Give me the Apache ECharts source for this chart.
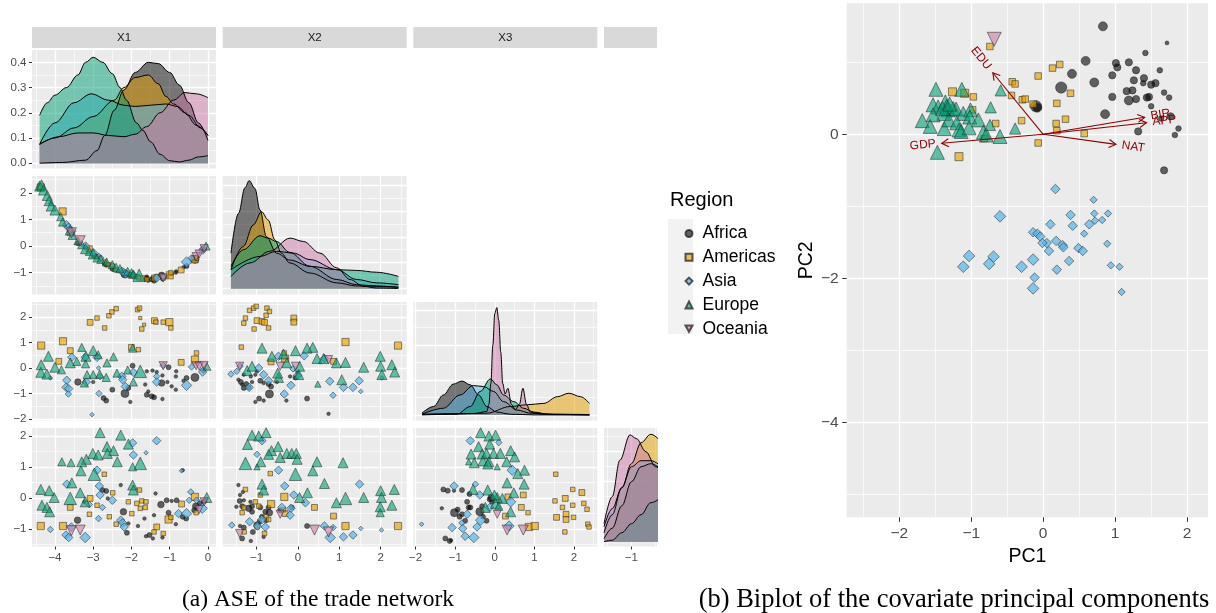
<!DOCTYPE html>
<html>
<head>
<meta charset="utf-8">
<script src="https://cdn.jsdelivr.net/npm/echarts@6.0.0/dist/echarts.min.js"></script>
<style>
  html, body { margin: 0; padding: 0; background: #ffffff; }
  #chart { width: 1216px; height: 613px; }
</style>
</head>
<body>
<div id="chart"></div>
<script>
// ---------------------------------------------------------------------------
// Categories, variables and tick labels
// ---------------------------------------------------------------------------
const regions = ['Africa', 'Americas', 'Asia', 'Europe', 'Oceania'];
const vars = ['X1', 'X2', 'X3', 'X4'];
const varRange = { X1: [-4.6, 0.21], X2: [-1.82, 2.63], X3: [-2.06, 2.59], X4: [-1.57, 2.25] };
const varTicks = { X1: [-4, -3, -2, -1, 0], X2: [-1, 0, 1, 2], X3: [-2, -1, 0, 1, 2], X4: [-1, 0, 1, 2] };
const densRange = { X1: [-0.021, 0.449], X2: [-0.23, 4.35], X3: [-0.16, 3.23], X4: [-0.16, 3.79] };
const densTicks = { X1: [0, 0.1, 0.2, 0.3, 0.4], X2: [0, 1, 2, 3, 4], X3: [0, 1, 2, 3], X4: [0, 1, 2, 3] };
const densStep = { X1: 0.1, X2: 1, X3: 1, X4: 1 };

const pcRangeX = [-2.73, 2.29];
const pcRangeY = [-5.32, 1.82];
const pcTicksX = [-2, -1, 0, 1, 2];
const pcTicksY = [-4, -2, 0];

// ---------------------------------------------------------------------------
// Kernel density estimates per region: [value, density]
// ---------------------------------------------------------------------------
const dens_X1 = {
  Africa:   [[-4.4,0],[-3.8,0.003],[-3.2,0.012],[-2.9,0.05],[-2.7,0.11],[-2.45,0.21],[-2.2,0.29],[-1.9,0.36],[-1.56,0.40],[-1.3,0.395],[-1.0,0.36],[-0.75,0.31],[-0.5,0.24],[-0.25,0.16],[0,0.09]],
  Americas: [[-4.4,0.075],[-4.0,0.10],[-3.5,0.14],[-3.0,0.185],[-2.45,0.25],[-2.2,0.30],[-1.9,0.34],[-1.56,0.35],[-1.3,0.315],[-1.1,0.265],[-0.9,0.235],[-0.6,0.2],[-0.3,0.15],[0,0.11]],
  Asia:     [[-4.4,0.075],[-4.0,0.16],[-3.5,0.24],[-3.05,0.275],[-2.6,0.25],[-2.2,0.23],[-1.9,0.225],[-1.5,0.23],[-1.1,0.235],[-0.8,0.225],[-0.5,0.19],[-0.2,0.14],[0,0.11]],
  Europe:   [[-4.4,0.19],[-4.2,0.24],[-4.0,0.27],[-3.7,0.30],[-3.4,0.35],[-3.2,0.40],[-3.0,0.42],[-2.75,0.40],[-2.5,0.355],[-2.3,0.30],[-2.13,0.25],[-1.87,0.16],[-1.7,0.13],[-1.5,0.085],[-1.25,0.035],[-1.0,0.01],[-0.75,0.005],[-0.5,0.012],[-0.25,0.025],[0,0.03]],
  Oceania:  [[-4.4,0.075],[-3.9,0.105],[-3.4,0.12],[-3.0,0.12],[-2.6,0.11],[-2.2,0.105],[-1.9,0.115],[-1.6,0.145],[-1.25,0.2],[-0.9,0.25],[-0.6,0.28],[-0.3,0.275],[0,0.26]]
};
const dens_X2 = {
  Africa:   [[-1.62,1.37],[-1.44,2.9],[-1.28,3.9],[-1.18,4.17],[-1.04,3.87],[-0.92,3.04],[-0.76,2.0],[-0.52,1.37],[-0.19,1.1],[0.29,0.86],[0.94,0.35],[1.42,0.15],[1.9,0.1],[2.43,0.05]],
  Americas: [[-1.62,0.73],[-1.32,1.63],[-1.08,2.46],[-0.88,2.97],[-0.72,2.65],[-0.56,1.88],[-0.4,1.37],[-0.2,0.99],[0.29,0.6],[0.94,0.22],[1.42,0.1],[2.43,0.05]],
  Asia:     [[-1.62,0.73],[-0.92,1.24],[-0.52,1.44],[-0.11,1.37],[0.29,1.12],[0.94,0.73],[1.42,0.35],[1.9,0.22],[2.43,0.15]],
  Europe:   [[-1.62,0.86],[-1.32,1.5],[-0.92,2.04],[-0.72,1.95],[-0.52,1.82],[-0.2,1.4],[0.29,0.86],[0.94,0.73],[1.42,0.7],[1.9,0.63],[2.43,0.47]],
  Oceania:  [[-1.62,0.47],[-1.16,0.99],[-0.68,1.44],[-0.19,1.95],[0.13,1.82],[0.53,1.37],[0.94,0.8],[1.26,0.35],[1.58,0.09],[1.9,0.02],[2.43,0]]
};
const dens_X3 = {
  Africa:   [[-1.84,0.05],[-1.55,0.24],[-1.3,0.57],[-1.05,0.88],[-0.83,0.97],[-0.62,0.86],[-0.41,0.57],[-0.2,0.24],[0.05,0.08],[0.4,0.02],[1.0,0],[2.39,0]],
  Americas: [[-1.84,0.02],[-1.0,0.03],[-0.2,0.05],[0.39,0.24],[0.82,0.29],[1.24,0.33],[1.58,0.52],[1.87,0.62],[2.17,0.52],[2.39,0.33]],
  Asia:     [[-1.84,0.02],[-1.3,0.19],[-0.88,0.57],[-0.54,0.84],[-0.28,0.81],[-0.03,0.67],[0.22,0.38],[0.56,0.14],[0.9,0.05],[1.5,0.02],[2.39,0.01]],
  Europe:   [[-1.84,0],[-0.96,0.02],[-0.62,0.24],[-0.37,0.67],[-0.11,1.03],[0.05,0.86],[0.22,0.57],[0.48,0.38],[0.73,0.19],[0.99,0.08],[1.4,0.01],[2.39,0]],
  Oceania:  [[-1.84,0.01],[-0.5,0.04],[-0.2,0.1],[-0.15,0.3],[-0.1,0.9],[-0.05,2.0],[0.0,2.9],[0.05,3.07],[0.1,2.7],[0.15,1.8],[0.2,0.9],[0.26,0.6],[0.33,0.76],[0.42,0.3],[0.52,0.15],[0.62,0.3],[0.71,0.76],[0.8,0.3],[0.9,0.08],[1.2,0.02],[2.39,0]]
};
const dens_X4 = {
  Africa:   [[-1.57,0.1],[-1.4,0.45],[-1.2,1.2],[-1.0,2.0],[-0.8,2.5],[-0.6,2.6],[-0.3,2.4],[0.2,1.5],[1.0,0.5],[2.0,0.1]],
  Americas: [[-1.57,0.3],[-1.4,0.9],[-1.2,1.8],[-1.0,2.6],[-0.8,3.3],[-0.6,3.58],[-0.3,3.3],[0.2,2.0],[1.0,0.6],[2.0,0.1]],
  Asia:     [[-1.57,0.5],[-1.4,1.1],[-1.2,1.8],[-1.0,2.5],[-0.8,2.7],[-0.6,2.7],[-0.3,2.5],[0.2,1.6],[1.0,0.8],[2.0,0.2]],
  Europe:   [[-1.57,0],[-1.4,0.05],[-1.2,0.3],[-1.0,0.6],[-0.8,0.9],[-0.6,1.3],[-0.3,1.5],[0.2,1.4],[1.0,1.2],[2.0,0.8]],
  Oceania:  [[-1.57,0.6],[-1.4,1.5],[-1.24,2.72],[-1.03,3.56],[-0.9,3.44],[-0.7,3.0],[-0.5,2.5],[0,1.5],[1.0,0.3],[2.0,0]]
};

// ---------------------------------------------------------------------------
// Embedding coordinates per region: [x, y, weight]
// ---------------------------------------------------------------------------
const pts_X1_X2 = {
  Africa:   [[-3.4,0.1,2],[-3.0,-0.4,1],[-2.7,-0.65,2],[-2.66,-0.7,2],[-2.5,-0.85,2],[-2.17,-1.05,4],[-2.03,-1.1,1],[-1.64,-1.25,1],[-1.6,-1.2,2],[-1.56,-1.3,1],[-1.47,-1.25,2],[-1.41,-1.3,2],[-1.19,-1.25,1],[-1.34,-1.15,1],[-1.45,-1.2,1],[-1.21,-1.1,3],[-1.06,-1.15,1],[-0.84,-1.0,1],[-0.95,-1.05,1],[-0.64,-0.8,1],[-0.56,-0.75,2],[-0.34,-0.5,4],[-0.83,-0.95,1],[-1.6,-1.15,1],[-1.97,-1.1,2],[-1.19,-1.2,1]],
  Americas: [[-4.37,2.2,4],[-3.8,1.3,4],[-3.6,0.5,3],[-3.1,-0.1,3],[-2.9,-0.4,2],[-2.7,-0.6,2],[-2.6,-0.7,2],[-2.5,-0.75,2],[-2.4,-0.9,2],[-2.2,-1.0,2],[-2.0,-1.1,3],[-1.85,-1.15,2],[-1.8,-1.2,2],[-1.7,-1.2,2],[-1.6,-1.25,2],[-1.4,-1.2,3],[-1.35,-1.15,2],[-1.17,-1.2,2],[-1.0,-1.1,4],[-0.97,-1.0,2],[-0.7,-0.9,3],[-0.35,-0.5,4],[-0.3,-0.45,2]],
  Asia:     [[-4.12,1.6,1],[-3.7,0.8,3],[-3.65,0.7,3],[-3.56,0.55,3],[-3.2,0.0,3],[-3.0,-0.25,3],[-2.86,-0.35,1],[-2.8,-0.45,2],[-2.25,-0.95,3],[-2.2,-1.0,3],[-2.15,-1.05,3],[-1.95,-1.1,3],[-1.34,-1.2,3],[-1.17,-1.15,2],[-0.56,-0.6,4],[-0.43,-0.45,2],[-0.14,-0.15,3],[-0.12,-0.1,2]],
  Europe:   [[-4.4,2.25,4],[-4.35,2.3,4],[-4.3,2.1,4],[-4.2,1.9,4],[-4.15,1.7,4],[-4.1,1.5,4],[-4.0,1.35,4],[-3.85,1.1,3],[-3.8,0.9,3],[-3.6,0.6,4],[-3.55,0.4,3],[-3.4,0.2,3],[-3.3,0.05,3],[-3.2,-0.1,4],[-3.1,-0.2,3],[-3.0,-0.3,4],[-2.9,-0.45,3],[-2.8,-0.5,3],[-2.65,-0.6,3],[-2.5,-0.7,3],[-2.4,-0.8,3],[-2.3,-0.85,3],[-2.1,-0.95,3],[-2.0,-1.0,3],[-1.95,-1.05,3],[-1.8,-1.1,5],[-0.05,0.0,3]],
  Oceania:  [[-3.57,0.5,4],[-3.34,0.2,4],[-1.17,-1.2,3],[-0.31,-0.4,3],[-0.23,-0.3,3],[-0.1,-0.1,3]]
};
const pts_X1_X3 = {
  Africa:   [[-3.4,-0.55,3],[-3.0,-0.55,1],[-2.73,-1.18,2],[-2.66,-1.28,2],[-2.5,-0.85,2],[-2.17,-1.0,4],[-2.03,-1.33,1],[-2.08,-0.78,2],[-1.64,-0.65,1],[-1.6,-1.05,2],[-1.56,-0.92,1],[-1.47,-1.11,2],[-1.41,-1.15,2],[-1.19,-1.22,1],[-1.34,-0.16,1],[-1.45,-0.1,1],[-1.21,-0.59,3],[-1.06,-0.55,1],[-0.84,-0.33,1],[-0.95,-0.72,1],[-0.84,-0.85,1],[-1.03,0.03,2],[-0.64,-0.5,1],[-0.56,-0.39,2],[-0.34,-0.37,4],[-0.83,-0.13,1],[-1.6,-0.13,1],[-1.97,0.09,2],[-1.19,-0.29,1]],
  Americas: [[-4.36,0.88,4],[-3.79,1.05,4],[-3.6,0.68,3],[-3.9,0.26,3],[-3.08,1.79,3],[-2.9,1.96,2],[-2.7,1.57,2],[-2.59,2.05,2],[-2.51,2.2,2],[-2.4,2.33,2],[-2.0,0.81,3],[-1.82,0.72,2],[-1.84,2.29,2],[-1.79,2.35,2],[-1.77,1.96,1],[-1.67,1.70,1],[-1.73,1.53,2],[-1.4,1.86,3],[-1.36,1.80,2],[-1.17,1.80,2],[-1.01,1.80,4],[-0.97,1.57,2],[-0.7,0.22,3],[-0.34,0.33,4],[-0.3,0.59,2]],
  Asia:     [[-4.12,-0.39,1],[-3.69,-0.48,3],[-3.71,-0.76,3],[-3.64,-0.81,3],[-3.65,-1.02,2],[-3.56,0.42,3],[-3.21,0.42,3],[-2.9,0.42,3],[-3.18,-0.55,3],[-2.85,-1.0,2],[-2.86,0.0,1],[-2.82,-0.34,2],[-2.25,-0.33,3],[-2.23,-0.46,3],[-2.16,-0.73,3],[-1.95,-0.17,3],[-1.17,0.1,2],[-1.34,-0.33,2],[-1.34,-0.55,3],[-0.56,-0.68,4],[-0.43,0.04,2],[-0.14,-0.16,3],[-0.12,-0.07,2],[-3.03,-1.83,1]],
  Europe:   [[-4.36,0.13,4],[-4.17,0.46,4],[-4.37,-0.17,4],[-4.21,-0.24,4],[-4.0,0.03,4],[-3.83,-0.07,3],[-3.6,0.2,4],[-3.43,0.26,3],[-3.3,0.81,3],[-3.19,0.46,4],[-3.0,0.68,4],[-2.87,0.52,3],[-3.2,0.16,3],[-3.16,-0.26,3],[-3.0,-0.26,3],[-3.23,-0.59,3],[-2.64,0.2,3],[-2.47,0.44,3],[-2.66,-0.37,3],[-2.38,-0.2,3],[-2.1,-0.08,3],[-1.77,-0.13,5],[-1.97,0.78,3],[-1.95,-0.55,3],[-2.83,-0.24,3],[-0.03,0.07,3]],
  Oceania:  [[-1.17,0.09,3],[-0.31,0.09,3],[-0.23,0.07,3],[-0.1,0.1,3]]
};
const pts_X2_X3 = {
  Africa:   [[-1.44,-0.46,1],[-1.38,-0.55,2],[-1.35,-0.65,1],[-1.31,-0.78,2],[-1.25,-0.63,2],[-1.19,-0.76,2],[-1.11,-0.55,1],[-0.91,-0.5,2],[-0.83,-0.59,1],[-0.69,-1.02,4],[-0.71,-0.63,2],[-0.65,-0.73,2],[-0.51,-0.55,1],[-0.94,-1.2,2],[-1.03,-1.33,1],[-0.83,-1.28,1],[-0.28,-1.28,1],[0.22,-1.2,2],[-1.03,-0.26,1],[-0.19,-0.33,1],[-0.06,-0.37,2],[-0.01,-0.2,1],[0.74,-1.8,1],[-1.31,-0.26,1],[-1.14,-0.33,1],[-0.99,-0.13,1]],
  Americas: [[-1.17,2.26,2],[-1.07,2.35,2],[-1.01,2.42,2],[-0.75,2.35,2],[-0.69,2.22,2],[-0.77,2.07,2],[-1.27,1.96,2],[-1.31,1.76,2],[-0.99,1.86,3],[-0.87,1.83,3],[-0.81,1.79,3],[-1.06,1.53,2],[-0.71,1.57,2],[-0.1,1.96,3],[-0.1,1.80,3],[-1.37,0.82,2],[1.15,1.02,4],[2.42,0.88,4],[-0.31,0.37,4],[-0.65,0.24,3],[0.86,0.26,3],[-0.33,0.59,2]],
  Asia:     [[-1.62,-0.24,2],[-1.48,-0.13,2],[-1.4,0.07,2],[-0.95,0.0,3],[-1.18,-0.76,3],[-0.83,-0.26,3],[-0.71,-0.5,3],[-0.47,0.46,3],[-0.17,-0.68,3],[-0.12,-0.03,2],[-0.01,-0.29,3],[0.15,0.48,3],[0.64,0.37,3],[0.77,-0.52,3],[1.1,-0.76,3],[1.33,-0.76,3],[1.48,-0.5,3],[1.52,-0.92,1],[2.03,-0.39,1],[-0.33,-1.02,3],[0.85,-1.07,2]],
  Europe:   [[-0.87,0.78,4],[-0.63,0.46,4],[-0.35,0.55,4],[-0.06,0.68,4],[0.36,0.81,4],[0.22,0.78,4],[0.46,0.37,4],[0.62,0.37,4],[0.93,0.2,4],[1.15,0.22,4],[0.04,0.07,4],[-0.27,0.2,4],[-0.47,-0.37,4],[-0.49,-0.2,4],[-1.23,-0.1,4],[-1.11,0.07,4],[0.02,-0.26,4],[1.06,-0.46,4],[0.48,-0.63,2],[1.59,0.03,4],[1.99,0.46,4],[2.0,0.07,4],[2.03,-0.26,4],[2.27,0.13,4],[2.34,-0.16,4]],
  Oceania:  [[-1.41,0.07,3],[-0.43,0.07,3],[-0.06,0.07,3],[0.74,0.33,3]]
};
const pts_X1_X4 = {
  Africa:   [[-3.41,-0.72,3],[-3.23,-0.13,1],[-2.76,0.25,2],[-2.66,0.22,2],[-2.62,-0.02,1],[-2.28,0.41,1],[-2.21,-0.45,3],[-2.12,-1.13,2],[-2.08,-0.83,1],[-1.83,-0.91,1],[-1.66,-0.67,1],[-1.62,-1.24,1],[-1.53,-1.2,2],[-1.44,-1.31,1],[-1.41,-0.56,1],[-1.37,0.14,1],[-1.23,-0.22,3],[-1.19,-1.28,1],[-1.08,-0.08,2],[-1.03,-0.48,2],[-0.84,-0.85,1],[-0.95,-0.1,1],[-0.82,-0.08,2],[-0.66,0.89,1],[-0.66,-0.61,2],[-0.57,-0.67,2],[-0.36,-0.4,2],[-0.32,-0.27,3],[-0.21,-0.18,2],[-0.1,-0.11,2]],
  Americas: [[-4.37,-0.91,4],[-3.79,-0.91,4],[-3.6,-0.31,3],[-3.1,-0.53,2],[-3.08,-0.02,3],[-2.9,-0.24,2],[-2.71,0.76,2],[-2.58,-0.61,2],[-2.49,0.16,2],[-2.4,-0.85,2],[-2.08,-0.13,2],[-1.99,-0.51,2],[-1.86,-0.18,2],[-1.73,-0.1,2],[-1.79,0.25,2],[-1.77,-0.34,2],[-1.64,-0.31,2],[-1.62,-0.13,2],[-1.34,-0.94,3],[-1.41,-1.1,2],[-1.17,-1.15,2],[-1.03,-0.7,4],[-0.97,-0.63,2],[-0.69,-0.2,3],[-0.34,0.03,4],[-0.31,-0.48,2]],
  Asia:     [[-1.34,1.84,3],[-1.97,1.77,3],[-1.95,1.38,3],[-1.62,1.45,1],[-2.9,0.89,3],[-0.69,0.87,1],[-3.69,0.44,3],[-2.84,0.38,3],[-2.82,0.09,3],[-2.5,-0.08,3],[-2.76,-0.31,2],[-3.1,-0.22,2],[-2.86,-0.67,2],[-4.12,-1.02,2],[-3.57,-0.94,3],[-3.71,-1.2,3],[-3.64,-1.28,3],[-3.21,-1.28,4],[-2.28,-0.72,3],[-2.23,-0.81,3],[-2.19,-0.94,3],[-0.77,-0.51,3],[-0.56,-0.51,4],[-0.15,-0.34,4],[-0.49,-0.08,2],[-0.45,0.19,2],[-0.3,-0.08,2]],
  Europe:   [[-2.82,2.1,4],[-2.28,2.02,4],[-2.08,1.73,4],[-2.64,1.65,4],[-2.47,1.52,4],[-2.63,1.43,4],[-3.01,1.43,4],[-2.87,1.38,4],[-3.18,1.24,4],[-3.3,1.16,4],[-3.82,1.16,3],[-3.58,1.13,3],[-2.37,1.16,4],[-1.77,1.11,5],[-1.97,1.0,3],[-3.32,0.87,4],[-2.97,0.76,5],[-1.97,0.41,4],[-1.95,0.25,4],[-4.37,0.27,4],[-4.15,0.23,4],[-4.02,0.01,4],[-3.56,0.48,4],[-3.6,-0.02,5],[-3.34,0.16,4],[-3.21,-0.13,4],[-4.34,-0.24,4],[-4.21,-0.31,4],[-4.14,-0.45,4],[-0.03,0.01,4]],
  Oceania:  [[-3.57,-1.06,4],[-3.34,-1.04,4],[-0.23,-0.38,3],[-0.1,-0.13,3]]
};
const pts_X2_X4 = {
  Africa:   [[-1.44,0.41,1],[-1.33,0.19,1],[-1.4,0.09,1],[-1.31,-0.08,1],[-1.41,-0.1,2],[-1.15,-0.13,1],[-1.11,-0.27,2],[-1.49,-0.29,1],[-1.35,-0.27,2],[-1.19,-0.34,3],[-1.11,-0.45,2],[-0.91,-0.31,2],[-0.79,-0.45,2],[-0.69,-0.48,3],[-0.87,-0.61,2],[-0.77,-0.72,2],[-0.93,-0.77,2],[-0.99,-0.88,3],[-1.4,-0.91,1],[-1.31,-0.96,2],[-1.09,-1.1,2],[-1.35,-1.31,2],[-1.14,-1.39,1],[-0.83,-1.26,1],[-0.43,-0.4,2],[-0.15,-0.31,2],[0.22,-0.91,2],[-0.71,-0.31,2]],
  Americas: [[-1.27,0.27,2],[-0.67,0.78,2],[-0.91,0.09,2],[-0.65,-0.2,4],[-0.33,0.03,4],[-1.31,-0.31,2],[-1.35,-0.48,2],[-1.03,-0.13,2],[-0.95,-0.27,2],[-0.31,-0.51,3],[-0.35,-0.38,2],[0.4,-0.31,3],[0.86,-0.59,3],[1.15,-0.91,4],[2.42,-0.91,4],[-0.77,-0.61,2],[-0.71,-0.7,2],[-0.99,-0.94,2],[-1.3,-1.1,2],[-0.81,-1.15,2]],
  Asia:     [[-0.87,1.84,3],[-0.99,1.4,2],[-0.47,0.89,3],[1.49,0.44,3],[-0.32,0.38,3],[-0.1,0.09,3],[0.18,-0.16,3],[-0.39,-0.31,3],[-0.17,-0.34,3],[-0.19,-0.56,3],[-0.87,-0.7,3],[-1.17,-0.77,3],[-1.6,-0.88,2],[-0.98,-0.91,3],[0.64,-0.91,3],[0.85,-0.96,2],[0.78,-1.28,4],[1.1,-1.26,3],[1.33,-1.2,3],[1.52,-0.99,1],[2.02,-1.04,1],[-0.79,-0.94,3]],
  Europe:   [[-1.11,2.02,4],[-0.95,1.99,4],[-0.77,2.1,4],[-1.22,1.72,4],[-0.64,1.52,4],[-0.48,1.65,4],[-0.71,1.4,4],[-0.43,1.3,4],[-0.27,1.43,4],[-0.15,1.43,4],[-0.04,1.43,4],[-0.02,1.24,4],[-0.9,1.16,4],[-1.27,1.11,5],[-0.99,1.0,2],[0.46,1.16,4],[1.09,1.13,4],[-0.06,0.76,5],[0.36,0.87,4],[0.64,0.46,4],[-0.87,0.44,4],[-0.83,0.25,4],[0.23,0.16,4],[0.04,0.01,4],[0.93,-0.16,4],[1.15,-0.02,5],[1.59,0.01,4],[2.0,0.23,4],[2.33,0.27,4],[2.02,0.01,4],[1.99,-0.29,4],[2.27,-0.24,4],[1.99,-0.48,3]],
  Oceania:  [[-1.41,-1.15,3],[-0.43,-0.53,3],[0.4,-1.04,4],[0.74,-1.1,4]]
};
const pts_X3_X4 = {
  Africa:   [[-1.3,0.27,2],[-1.19,0.23,2],[-1.03,0.23,1],[-0.83,0.25,2],[-0.64,0.12,2],[-0.7,-0.13,2],[-1.34,-0.34,1],[-1.02,-0.48,4],[-0.94,-0.38,2],[-0.89,-0.61,2],[-0.62,-0.31,2],[-0.38,-0.45,4],[-0.32,-0.27,2],[-0.3,-0.61,2],[-0.21,-0.74,2],[-0.83,-0.53,2],[-1.25,-1.31,2],[-1.14,-1.39,2],[-1.11,-1.37,1],[-0.75,-0.74,2],[-0.09,0.01,3],[-0.13,-0.05,2],[-0.07,-0.13,2],[-0.66,-0.31,2]],
  Americas: [[1.54,0.76,2],[1.97,0.27,2],[2.2,0.17,3],[1.52,-0.1,2],[1.78,-0.02,3],[1.97,-0.24,2],[2.25,-0.18,2],[2.33,-0.37,2],[1.71,-0.31,2],[1.8,-0.53,3],[1.56,-0.63,3],[1.8,-0.7,3],[1.99,-0.63,2],[2.35,-0.85,2],[2.38,-0.94,2],[1.77,-1.1,2],[0.86,-0.94,4],[1.01,-0.91,4],[0.67,-0.31,3],[0.84,-0.48,2],[0.27,-0.59,3],[0.72,0.09,3],[0.33,0.03,3]],
  Asia:     [[-0.62,1.84,3],[0.1,1.78,2],[0.44,0.89,4],[-0.49,0.44,2],[-1.03,0.38,3],[-0.38,0.09,3],[0.4,-0.13,4],[-0.13,-0.31,3],[-0.7,-0.53,3],[-0.36,-0.72,4],[-0.45,-0.94,3],[-1.08,-0.96,3],[-0.83,-0.81,2],[-0.75,-1.24,3],[-0.53,-1.28,4],[0.36,-0.91,4],[-1.85,-0.85,1],[-0.81,-0.99,3]],
  Europe:   [[-0.36,2.1,4],[-0.15,1.99,4],[0.02,2.02,4],[-0.41,1.65,4],[-0.13,1.73,4],[-0.6,1.41,4],[-0.32,1.41,4],[-0.21,1.43,4],[-0.03,1.43,4],[0.14,1.43,4],[0.4,1.52,4],[0.5,1.32,4],[-0.66,1.16,2],[-0.52,1.13,4],[-0.3,1.19,4],[-0.15,1.16,4],[-0.18,1.09,4],[0.06,1.0,2],[0.3,1.16,4],[0.75,0.89,4],[0.58,0.78,4],[0.31,0.48,4],[0.74,0.44,4],[-0.55,0.27,4],[-0.18,0.25,4],[0.48,0.16,4],[0.19,-0.02,4],[0.06,0.01,4],[-0.01,0.09,4],[-0.24,-0.31,4],[0.02,-0.18,4],[0.1,-0.27,3],[0.4,-0.45,4]],
  Oceania:  [[0.06,-0.53,3],[0.31,-1.04,4],[0.72,-1.04,4]]
};

// ---------------------------------------------------------------------------
// Covariate principal component scores: [PC1, PC2, weight]
// ---------------------------------------------------------------------------
const pc_Africa = [[0.83,1.50,4],[0.59,1.02,4],[0.40,0.84,4],[0.25,0.65,5],[0.71,0.72,4],[1.01,0.99,3],[1.03,0.93,3],[1.19,1.00,3],[1.42,1.13,2],[1.72,1.27,1],[1.29,0.89,3],[1.62,0.89,2],[0.96,0.82,3],[1.26,0.75,3],[1.40,0.78,3],[1.39,0.71,2],[1.50,0.69,3],[1.56,0.71,3],[1.16,0.60,3],[1.24,0.61,3],[1.68,0.58,2],[1.75,0.51,2],[0.96,0.52,3],[1.19,0.47,4],[1.29,0.49,3],[1.44,0.51,3],[1.47,0.52,3],[1.50,0.39,2],[0.86,0.28,4],[1.77,0.25,3],[1.64,0.22,2],[1.88,0.08,2],[1.32,0.04,3],[1.83,-0.01,2],[1.68,-0.50,3],[-0.10,0.39,5],[-0.08,0.37,4]];
const pc_Americas = [[-0.74,1.22,3],[0.23,0.97,3],[0.13,0.92,3],[-0.07,0.81,3],[-0.43,0.73,3],[-0.39,0.70,3],[0.38,0.57,3],[-0.44,0.54,3],[-0.29,0.48,3],[-0.25,0.49,3],[-0.14,0.42,3],[0.19,0.43,3],[-0.30,0.19,3],[0.31,0.21,3],[0.18,0.15,3],[0.19,0.05,3],[0.57,0.01,3],[-0.07,-0.12,3],[-0.66,0.15,3],[-0.82,-0.06,3],[-1.17,-0.31,4],[-1.26,0.59,4],[-1.09,0.57,4],[-0.97,0.52,3],[-0.98,0.34,3]];
const pc_Asia = [[0.17,-0.76,3],[0.70,-0.91,2],[-0.60,-1.14,4],[0.38,-1.12,3],[0.71,-1.10,2],[0.90,-1.10,2],[0.72,-1.20,2],[0.82,-1.19,2],[0.10,-1.25,3],[0.41,-1.27,3],[0.64,-1.25,3],[0.57,-1.38,2],[-0.14,-1.36,3],[-0.08,-1.38,3],[-0.04,-1.42,3],[0.05,-1.51,3],[-0.01,-1.51,3],[0.18,-1.48,3],[0.27,-1.54,3],[0.28,-1.57,3],[0.49,-1.58,3],[0.55,-1.62,3],[0.89,-1.52,2],[0.08,-1.62,3],[-1.03,-1.69,4],[-0.69,-1.70,4],[-1.11,-1.84,4],[-0.75,-1.80,4],[-0.30,-1.84,4],[-0.14,-1.74,4],[0.36,-1.76,3],[0.94,-1.82,2],[1.06,-1.84,2],[0.19,-1.88,3],[-0.12,-1.99,3],[-0.14,-2.14,4],[1.09,-2.19,2]];
const pc_Europe = [[-1.53,0.41,5],[-1.46,0.38,5],[-1.36,0.45,5],[-1.34,0.39,5],[-1.32,0.34,5],[-1.38,0.29,5],[-1.25,0.36,5],[-1.21,0.35,5],[-1.11,0.29,5],[-1.01,0.34,5],[-1.02,0.24,5],[-0.90,0.20,5],[-1.53,0.27,5],[-1.68,0.19,5],[-1.57,0.11,5],[-1.375,0.08,5],[-1.31,0.20,5],[-1.20,0.16,5],[-1.17,0.06,5],[-1.14,0.04,5],[-1.03,0.09,5],[-0.83,0.03,5],[-0.79,-0.01,5],[-0.73,0.375,4],[-0.74,0.13,4],[-0.60,-0.03,5],[-0.39,0.08,4],[-1.47,-0.25,5],[-1.13,0.625,5],[-0.59,0.61,4],[-1.49,0.625,5],[-1.40,0.36,5],[-1.30,0.42,5]];
const pc_Oceania = [[-0.68,1.32,5]];

// Variable loadings drawn as arrows from the origin
const loadNames = ['EDU', 'GDP', 'NAT', 'APP', 'BIR'];
const loadPC1 = [-0.70, -1.41, 1.01, 1.436, 1.41];
const loadPC2 = [0.855, -0.125, -0.14, 0.161, 0.236];

// ---------------------------------------------------------------------------
// Styling
// ---------------------------------------------------------------------------
const FONT = 'Liberation Sans';
const regionFill = {
  Africa: 'rgba(0,0,0,0.6)',
  Americas: 'rgba(230,159,0,0.65)',
  Asia: 'rgba(86,180,233,0.7)',
  Europe: 'rgba(0,158,115,0.6)',
  Oceania: 'rgba(204,121,167,0.6)'
};
const densFill = {
  Africa: 'rgba(0,0,0,0.5)',
  Americas: 'rgba(230,159,0,0.5)',
  Asia: 'rgba(86,180,233,0.5)',
  Europe: 'rgba(0,158,115,0.5)',
  Oceania: 'rgba(204,121,167,0.5)'
};
const regionSymbol = { Africa: 'circle', Americas: 'rect', Asia: 'diamond', Europe: 'triangle', Oceania: 'triangle' };
const regionRotate = { Africa: 0, Americas: 0, Asia: 0, Europe: 0, Oceania: 180 };
const legendIcon = {
  Africa: 'circle', Americas: 'rect', Asia: 'diamond', Europe: 'triangle',
  Oceania: 'path://M0,0L10,0L5,9Z'
};
const shapeScale = { circle: 1, rect: 0.9, diamond: 1.3, triangle: 1.25 };
const sizeByWeight = [0, 3.5, 5, 6.5, 8, 10];

// Panel geometry of the scatterplot matrix
const colLeft = [32, 222.7, 413.3, 604];
const colWidth = [184, 184, 184, 53];
const rowTop = [50, 176, 302, 428];
const rowHeight = 118.5;

const pairData = {
  X1X2: pts_X1_X2, X1X3: pts_X1_X3, X2X3: pts_X2_X3,
  X1X4: pts_X1_X4, X2X4: pts_X2_X4, X3X4: pts_X3_X4
};
const densData = { X1: dens_X1, X2: dens_X2, X3: dens_X3, X4: dens_X4 };
const pcData = { Africa: pc_Africa, Americas: pc_Americas, Asia: pc_Asia, Europe: pc_Europe, Oceania: pc_Oceania };

const minusFmt = v => (v < 0 ? '\u2212' : '') + String(Math.abs(Math.round(v * 100) / 100));

function valueAxis(o) {
  const vals = o.ticks.filter(t => t >= o.min && t <= o.max);
  return {
    type: 'value', gridIndex: o.grid, min: o.min, max: o.max,
    minInterval: o.step, maxInterval: o.step,
    position: o.position,
    name: o.name || '', nameLocation: 'middle', nameGap: o.nameGap || 0, nameRotate: o.nameRotate,
    nameTextStyle: { fontFamily: FONT, fontSize: o.nameSize || 12, color: '#000' },
    axisLine: { show: false, onZero: false },
    axisTick: { show: o.labels, length: o.tickLen || 3, lineStyle: { color: '#333', width: 1 }, customValues: vals },
    axisLabel: { show: o.labels, customValues: vals, color: '#4D4D4D', fontFamily: FONT,
                 fontSize: o.fontSize || 11.5, margin: o.margin || 5.5, formatter: o.fmt || minusFmt },
    splitLine: { show: true, lineStyle: { color: '#FFFFFF', width: o.major || 1.3 } },
    minorTick: { show: false, splitNumber: 2 },
    minorSplitLine: { show: true, lineStyle: { color: '#FFFFFF', width: o.minor || 0.65 } }
  };
}

function scatterSeries(reg, data, g, scale) {
  const sym = regionSymbol[reg];
  return {
    type: 'scatter', name: reg, xAxisIndex: g, yAxisIndex: g, data: data,
    symbol: sym, symbolRotate: regionRotate[reg],
    symbolSize: v => sizeByWeight[v[2] || 3] * shapeScale[sym] * (scale || 1),
    itemStyle: { color: regionFill[reg], borderColor: 'rgba(35,35,35,0.75)', borderWidth: 0.7, opacity: 1 },
    emphasis: { disabled: true }, silent: true
  };
}

function densitySeries(reg, data, g) {
  return {
    type: 'line', name: reg + ' density', xAxisIndex: g, yAxisIndex: g, data: data,
    smooth: 0.35, smoothMonotone: 'x', symbol: 'none',
    lineStyle: { color: '#000', width: 1 },
    areaStyle: { color: densFill[reg], opacity: 1 },
    emphasis: { disabled: true }, silent: true
  };
}

const grids = [], xAxes = [], yAxes = [], series = [];
function addGrid(left, top, width, height) {
  grids.push({ left, top, width, height, show: true, backgroundColor: '#EBEBEB', borderWidth: 0, containLabel: false });
  return grids.length - 1;
}

// Biplot panel (placed first so the legend picks up its symbols)
const gb = addGrid(846.7, 3.3, 361.3, 514);
xAxes.push(valueAxis({ grid: gb, position: 'bottom', min: pcRangeX[0], max: pcRangeX[1], ticks: pcTicksX, step: 1, labels: true,
  fontSize: 15.5, tickLen: 4.5, margin: 8, major: 1.4, minor: 0.7, name: 'PC1', nameGap: 26, nameSize: 19.5 }));
yAxes.push(valueAxis({ grid: gb, position: 'left', min: pcRangeY[0], max: pcRangeY[1], ticks: pcTicksY, step: 2, labels: true,
  fontSize: 15.5, tickLen: 4.5, margin: 8, major: 1.4, minor: 0.7, name: 'PC2', nameGap: 30, nameSize: 19.5, nameRotate: 90 }));
regions.forEach(reg => series.push(scatterSeries(reg, pcData[reg], gb, 1.12)));

series.push({
  type: 'custom', name: 'loadings', xAxisIndex: gb, yAxisIndex: gb, silent: true, z: 5,
  data: loadNames.map((n, i) => [loadPC1[i], loadPC2[i], i]),
  renderItem: function (params, api) {
    const o = api.coord([0, 0]);
    const t = api.coord([api.value(0), api.value(1)]);
    const ang = Math.atan2(t[1] - o[1], t[0] - o[0]);
    const L = 8, A = Math.PI / 6;
    const p1 = [t[0] - L * Math.cos(ang - A), t[1] - L * Math.sin(ang - A)];
    const p2 = [t[0] - L * Math.cos(ang + A), t[1] - L * Math.sin(ang + A)];
    const right = api.value(0) > 0;
    const rot = Math.atan(api.value(1) / api.value(0));
    const stroke = { stroke: '#8B0000', lineWidth: 1.1, fill: 'none' };
    return {
      type: 'group',
      children: [
        { type: 'line', shape: { x1: o[0], y1: o[1], x2: t[0], y2: t[1] }, style: stroke },
        { type: 'polyline', shape: { points: [p1, t, p2] }, style: stroke },
        { type: 'text', x: t[0], y: t[1], rotation: rot,
          style: { text: loadNames[api.value(2)], x: right ? 6 : -6, y: 0, align: right ? 'left' : 'right',
                   verticalAlign: 'middle', fill: '#8B0000', font: '12px "' + FONT + '"' } }
      ]
    };
  }
});

// Scatterplot matrix: densities on the diagonal, scatterplots below it
for (let r = 0; r < 4; r++) {
  for (let c = 0; c <= r; c++) {
    const g = addGrid(colLeft[c], rowTop[r], colWidth[c], rowHeight);
    const vx = vars[c], vy = vars[r];
    const full = varRange[vx];
    const xr = [full[0], full[0] + (colWidth[c] / colWidth[0]) * (full[1] - full[0])];
    xAxes.push(valueAxis({ grid: g, position: 'bottom', min: xr[0], max: xr[1], ticks: varTicks[vx], step: 1, labels: r === 3 }));
    if (r === c) {
      yAxes.push(valueAxis({ grid: g, position: 'left', min: densRange[vy][0], max: densRange[vy][1], ticks: densTicks[vy],
        step: densStep[vy], labels: c === 0, fmt: v => v.toFixed(1) }));
      regions.forEach(reg => series.push(densitySeries(reg, densData[vy][reg], g)));
    } else {
      yAxes.push(valueAxis({ grid: g, position: 'left', min: varRange[vy][0], max: varRange[vy][1], ticks: varTicks[vy],
        step: 1, labels: c === 0 }));
      regions.forEach(reg => series.push(scatterSeries(reg, pairData[vx + vy][reg], g)));
    }
  }
}

// Facet strips, legend title/background and captions
const stripLabels = ['X1', 'X2', 'X3', ''];
const graphics = [];
stripLabels.forEach((lab, c) => {
  graphics.push({ type: 'rect', shape: { x: colLeft[c], y: 27, width: colWidth[c], height: 21 }, style: { fill: '#D9D9D9' }, silent: true });
  if (lab) graphics.push({ type: 'text', x: colLeft[c] + colWidth[c] / 2, y: 37.5, silent: true,
    style: { text: lab, align: 'center', verticalAlign: 'middle', fill: '#1A1A1A', font: '11.5px "' + FONT + '"' } });
});
graphics.push({ type: 'rect', shape: { x: 668, y: 219, width: 25, height: 115 }, style: { fill: '#F2F2F2' }, silent: true, z: -1 });
graphics.push({ type: 'text', x: 670, y: 200, silent: true,
  style: { text: 'Region', align: 'left', verticalAlign: 'middle', fill: '#000', font: '20px "' + FONT + '"' } });
graphics.push({ type: 'text', x: 318, y: 600, silent: true,
  style: { text: '(a) ASE of the trade network', align: 'center', verticalAlign: 'middle', fill: '#000', font: '23.5px "Liberation Serif"' } });
graphics.push({ type: 'text', x: 954, y: 600, silent: true,
  style: { text: '(b) Biplot of the covariate principal components', align: 'center', verticalAlign: 'middle', fill: '#000', font: '26.5px "Liberation Serif"' } });

const chart = echarts.init(document.getElementById('chart'), null, { renderer: 'canvas' });
chart.setOption({
  animation: false,
  backgroundColor: '#FFFFFF',
  grid: grids,
  xAxis: xAxes,
  yAxis: yAxes,
  legend: {
    data: regions.map(r => ({ name: r, icon: legendIcon[r] })),
    orient: 'vertical', left: 684.5, top: 224.5, padding: 0, itemWidth: 7, itemHeight: 7, itemGap: 5.8,
    selectedMode: false, z: 10,
    textStyle: { fontFamily: FONT, fontSize: 17.5, color: '#000', padding: [0, 0, 0, 5] }
  },
  graphic: graphics,
  series: series
});
</script>
</body>
</html>
